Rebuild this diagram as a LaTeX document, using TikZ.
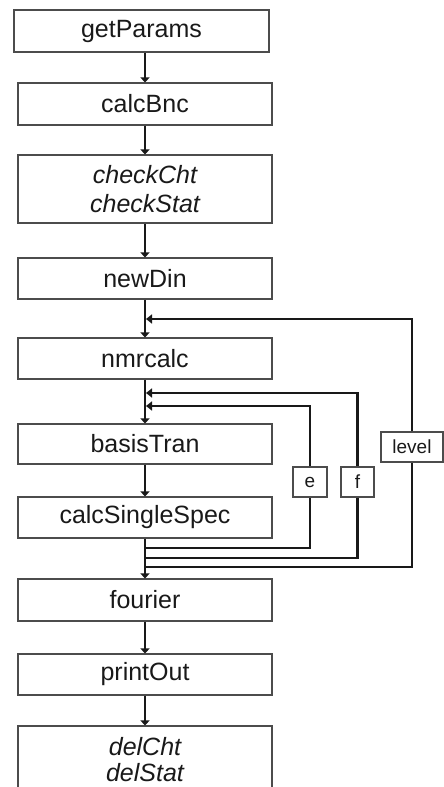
\documentclass[tikz,border=0pt]{standalone}
\usepackage{fontspec}
\setmainfont{Liberation Sans}
\usetikzlibrary{arrows.meta}
\begin{document}
\begin{tikzpicture}[x=1pt,y=-1pt,
  box/.style={draw=black!70,line width=1.1pt,rectangle,inner sep=0pt,minimum width=254pt,
    font=\fontsize{25}{29}\selectfont,align=center,text=black!90},
  sbox/.style={draw=black!70,line width=1.1pt,rectangle,inner sep=0pt,minimum height=30pt,
    font=\fontsize{19}{22}\selectfont,text=black!90},
  flow/.style={draw=black!90,line width=1.5pt,-{Triangle[width=9pt,length=5pt]}},
  back/.style={draw=black!90,line width=1.5pt},
  backarr/.style={back,-{Triangle[width=9pt,length=6pt]}},
  thick2/.style={line width=2.3pt}]
\useasboundingbox (0,0) rectangle (444,787);
\clip (0,0) rectangle (444,787);
\node[box,minimum width=255pt,minimum height=42pt] (gp) at (141.5,31) {getParams};
\node[box,minimum height=42pt] (cb) at (145,104) {calcBnc};
\node[box,minimum height=68pt] (ck) at (145,189) {\itshape checkCht\\\itshape checkStat};
\node[box,minimum height=41pt] (nd) at (145,278.5) {newDin};
\node[box,minimum height=41pt] (nm) at (145,358.5) {nmrcalc};
\node[box,minimum height=40pt] (bt) at (145,444) {basisTran};
\node[box,minimum height=41pt] (cs) at (145,517.5) {calcSingleSpec};
\node[box,minimum height=42pt] (fo) at (145,600) {fourier};
\node[box,minimum height=41pt] (po) at (145,674.5) {printOut};
\node[box,minimum height=68pt,font=\fontsize{25}{26}\selectfont] (dc) at (145,760) {\itshape delCht\\\itshape delStat};
\node[sbox,minimum width=34pt] (e) at (310,482) {e};
\node[sbox,minimum width=33pt] (f) at (357.5,482) {f};
\node[sbox,minimum width=62pt] (lv) at (412,447) {level};
% main flow
\draw[flow] (gp.south -| cb) -- (cb);
\draw[flow] (cb) -- (ck);
\draw[flow] (ck) -- (nd);
\draw[flow] (nd) -- (nm);
\draw[flow] (nm) -- (bt);
\draw[flow] (bt) -- (cs);
\draw[flow] (cs) -- (fo);
\draw[flow] (fo) -- (po);
\draw[flow] (po) -- (dc);
% feedback coordinates
\coordinate (eB) at (145,548);
\coordinate (fB) at (145,558);
\coordinate (lB) at (145,567);
\coordinate (eT) at (146,406);
\coordinate (fT) at (146,393);
\coordinate (lT) at (146,319);
% feedback loops
\draw[back] (eB) -| (e.south);
\draw[back,thick2] (fB) -| (f.south);
\draw[back] (lB) -| (lv.south);
\draw[backarr,thick2] (e.north) |- (eT);
\draw[backarr,thick2] (f.north) |- (fT);
\draw[backarr] (lv.north) |- (lT);
\end{tikzpicture}
\end{document}
